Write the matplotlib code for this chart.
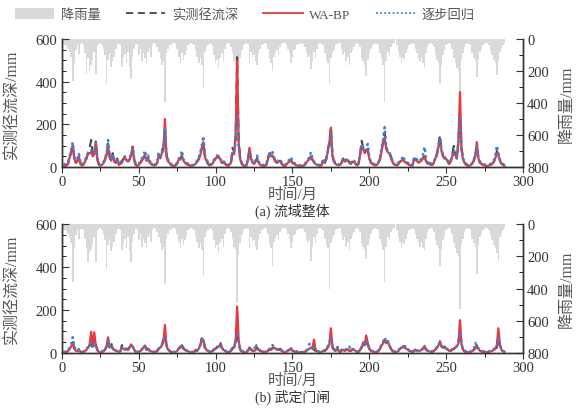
import numpy as np
import matplotlib.pyplot as plt
from matplotlib.patches import Patch
from matplotlib.lines import Line2D

plt.rcParams['font.family'] = ['Liberation Serif', 'Noto Sans CJK SC']

# monthly series, 288 months, one row = one year

rain_a = [
    30, 35, 45, 60, 80, 110, 262, 150, 70, 40, 95, 30,
    28, 35, 90, 219, 120, 200, 160, 130, 80, 219, 45, 30,
    25, 35, 60, 100, 280, 130, 90, 175, 140, 110, 60, 30,
    30, 40, 175, 120, 95, 150, 80, 175, 250, 110, 60, 30,
    35, 100, 60, 140, 90, 120, 150, 80, 60, 110, 40, 25,
    30, 50, 80, 120, 160, 140, 394, 90, 60, 40, 35, 25,
    25, 30, 60, 110, 150, 90, 130, 100, 70, 40, 30, 25,
    30, 40, 70, 110, 150, 120, 160, 306, 80, 50, 35, 25,
    30, 45, 100, 150, 130, 180, 120, 90, 140, 60, 30, 25,
    30, 50, 90, 140, 160, 480, 190, 120, 70, 40, 30, 25,
    30, 150, 80, 110, 100, 140, 160, 90, 60, 40, 30, 25,
    30, 60, 120, 150, 200, 110, 90, 70, 100, 50, 30, 25,
    25, 40, 60, 90, 150, 110, 70, 60, 40, 30, 30, 25,
    30, 50, 90, 110, 100, 188, 140, 80, 120, 60, 30, 25,
    30, 40, 90, 130, 150, 281, 120, 90, 70, 40, 30, 25,
    25, 60, 100, 80, 140, 110, 160, 90, 70, 50, 30, 25,
    30, 50, 120, 140, 160, 231, 130, 90, 60, 40, 30, 25,
    30, 40, 90, 120, 160, 394, 140, 80, 100, 50, 30, 25,
    0, 35, 80, 110, 150, 120, 130, 90, 60, 40, 30, 25,
    30, 60, 90, 120, 140, 110, 150, 181, 90, 50, 30, 25,
    30, 50, 100, 130, 150, 281, 160, 100, 70, 40, 30, 25,
    30, 60, 120, 150, 180, 200, 500, 130, 90, 50, 30, 25,
    30, 40, 90, 120, 140, 238, 130, 80, 60, 40, 30, 25,
    25, 40, 70, 100, 130, 150, 225, 140, 80, 60, 35, 25,
]

obs_a = [
    3, 5, 8, 15, 40, 75, 100, 45, 20, 30, 55, 15,
    8, 10, 20, 40, 70, 90, 127, 60, 50, 115, 40, 12,
    6, 10, 15, 35, 60, 110, 50, 30, 65, 25, 20, 40,
    10, 15, 25, 40, 45, 30, 25, 35, 60, 95, 35, 10,
    5, 10, 20, 35, 45, 60, 30, 45, 25, 15, 10, 8,
    10, 20, 60, 45, 80, 90, 170, 60, 30, 20, 10, 5,
    5, 10, 15, 40, 35, 50, 30, 20, 15, 10, 8, 5,
    5, 10, 15, 25, 40, 60, 90, 120, 50, 35, 15, 8,
    10, 15, 30, 40, 45, 50, 35, 20, 25, 15, 10, 5,
    10, 20, 90, 70, 150, 515, 120, 40, 15, 8, 5, 5,
    30, 80, 40, 20, 15, 30, 40, 20, 10, 8, 5, 5,
    10, 40, 65, 50, 60, 40, 25, 20, 30, 35, 15, 8,
    5, 10, 20, 30, 35, 20, 15, 10, 8, 5, 5, 5,
    5, 10, 20, 30, 40, 50, 35, 20, 15, 10, 8, 5,
    10, 35, 20, 40, 80, 120, 188, 60, 25, 15, 10, 8,
    10, 20, 40, 25, 30, 35, 20, 15, 25, 30, 15, 8,
    15, 60, 123, 90, 70, 80, 85, 40, 20, 15, 10, 8,
    10, 20, 40, 80, 120, 160, 90, 70, 75, 50, 30, 15,
    10, 8, 15, 25, 30, 40, 25, 20, 15, 10, 8, 5,
    35, 40, 30, 20, 25, 30, 45, 50, 25, 15, 20, 10,
    10, 20, 40, 60, 100, 150, 80, 50, 40, 45, 25, 15,
    30, 60, 99, 60, 40, 120, 240, 90, 40, 20, 10, 8,
    5, 8, 15, 30, 50, 90, 40, 20, 15, 10, 8, 5,
    5, 8, 10, 15, 25, 40, 75, 60, 30, 15, 10, 5,
]

wabp_a = [
    5, 6, 10, 18, 45, 70, 105, 40, 20, 25, 50, 15,
    8, 12, 25, 45, 60, 65, 70, 50, 60, 120, 35, 12,
    6, 10, 18, 35, 55, 100, 45, 30, 55, 25, 20, 35,
    10, 15, 20, 35, 45, 30, 25, 35, 55, 95, 30, 10,
    5, 10, 18, 30, 40, 55, 30, 40, 20, 15, 10, 8,
    10, 20, 55, 40, 65, 75, 225, 50, 25, 20, 10, 5,
    5, 10, 15, 35, 40, 55, 30, 20, 15, 10, 8, 5,
    5, 10, 15, 25, 35, 55, 85, 115, 45, 30, 15, 8,
    10, 15, 30, 40, 50, 45, 35, 20, 25, 15, 10, 5,
    10, 20, 65, 60, 140, 500, 110, 35, 15, 8, 5, 5,
    35, 90, 40, 20, 15, 25, 35, 20, 10, 8, 5, 5,
    10, 35, 60, 50, 55, 40, 25, 20, 25, 30, 15, 8,
    5, 10, 20, 25, 30, 20, 15, 10, 8, 5, 5, 5,
    5, 10, 20, 30, 35, 45, 35, 20, 15, 10, 8, 5,
    10, 30, 20, 35, 75, 110, 185, 55, 25, 15, 10, 8,
    10, 20, 35, 25, 30, 30, 20, 15, 25, 25, 15, 8,
    15, 55, 94, 85, 65, 75, 80, 40, 20, 15, 10, 8,
    10, 20, 35, 75, 110, 140, 85, 70, 65, 45, 25, 12,
    10, 8, 15, 25, 30, 35, 25, 20, 15, 10, 8, 5,
    30, 35, 30, 20, 25, 30, 40, 45, 25, 15, 20, 10,
    10, 20, 40, 55, 95, 130, 75, 50, 40, 40, 25, 15,
    25, 50, 70, 55, 40, 110, 351, 80, 35, 20, 10, 8,
    5, 8, 15, 30, 55, 117, 40, 20, 15, 10, 8, 5,
    5, 8, 10, 15, 25, 40, 65, 55, 30, 15, 10, 5,
]

step_a = [
    10, 15, 20, 25, 50, 80, 116, 50, 30, 35, 61, 20,
    12, 18, 30, 50, 65, 80, 80, 60, 70, 118, 45, 15,
    10, 15, 25, 40, 60, 127, 55, 35, 60, 30, 25, 40,
    15, 20, 30, 45, 50, 40, 30, 40, 60, 90, 40, 15,
    10, 15, 25, 40, 50, 77, 35, 55, 30, 20, 15, 10,
    15, 25, 70, 50, 70, 90, 186, 60, 35, 25, 15, 10,
    10, 15, 20, 40, 45, 77, 35, 25, 20, 15, 10, 8,
    8, 12, 20, 30, 40, 70, 100, 145, 55, 40, 20, 10,
    15, 20, 35, 45, 55, 50, 40, 25, 30, 20, 15, 10,
    15, 25, 70, 65, 120, 250, 100, 40, 20, 12, 10, 8,
    30, 70, 45, 25, 20, 30, 53, 25, 15, 12, 10, 8,
    15, 40, 70, 55, 70, 45, 30, 25, 35, 35, 20, 10,
    10, 15, 25, 35, 47, 25, 20, 15, 12, 10, 8, 8,
    10, 15, 25, 35, 45, 70, 40, 25, 20, 15, 10, 8,
    15, 40, 25, 40, 70, 100, 155, 50, 30, 20, 15, 10,
    15, 25, 38, 30, 35, 35, 25, 20, 30, 30, 20, 10,
    20, 60, 108, 95, 75, 90, 108, 45, 25, 20, 15, 10,
    15, 25, 45, 90, 130, 187, 95, 75, 70, 50, 30, 15,
    12, 10, 20, 30, 35, 53, 30, 25, 20, 15, 10, 8,
    40, 47, 35, 25, 30, 40, 60, 94, 30, 20, 25, 15,
    15, 25, 45, 60, 100, 130, 80, 55, 45, 45, 30, 20,
    30, 55, 80, 60, 45, 130, 240, 85, 40, 25, 15, 10,
    10, 12, 20, 35, 55, 98, 45, 25, 20, 15, 12, 10,
    10, 12, 15, 20, 30, 50, 100, 65, 35, 20, 15, 10,
]

rain_b = [
    30, 35, 45, 60, 80, 120, 360, 150, 70, 40, 90, 30,
    28, 35, 90, 150, 235, 180, 160, 130, 80, 235, 45, 30,
    25, 35, 60, 100, 280, 130, 90, 170, 140, 110, 60, 30,
    30, 40, 160, 120, 95, 150, 80, 170, 235, 110, 60, 30,
    35, 100, 60, 140, 90, 120, 150, 80, 60, 110, 40, 25,
    30, 50, 80, 120, 160, 140, 372, 90, 60, 40, 35, 25,
    25, 30, 60, 110, 150, 90, 130, 100, 70, 40, 30, 25,
    30, 40, 70, 110, 150, 120, 160, 320, 80, 50, 35, 25,
    30, 45, 100, 150, 130, 180, 120, 90, 140, 60, 30, 25,
    30, 50, 90, 140, 160, 490, 190, 120, 70, 40, 30, 25,
    30, 150, 80, 110, 100, 140, 160, 90, 60, 40, 30, 25,
    30, 60, 120, 150, 260, 110, 90, 70, 100, 50, 30, 25,
    25, 40, 60, 90, 150, 110, 70, 60, 40, 30, 30, 25,
    30, 50, 90, 110, 100, 230, 140, 80, 120, 60, 30, 25,
    30, 40, 90, 130, 150, 400, 120, 90, 70, 40, 30, 25,
    25, 60, 100, 80, 140, 110, 160, 90, 70, 50, 30, 25,
    30, 50, 120, 140, 160, 217, 130, 90, 60, 40, 30, 25,
    30, 40, 90, 120, 160, 360, 140, 80, 100, 50, 30, 25,
    0, 35, 80, 110, 150, 120, 130, 90, 60, 40, 30, 25,
    30, 60, 90, 120, 140, 110, 150, 160, 90, 50, 30, 25,
    30, 50, 100, 130, 150, 260, 160, 100, 70, 40, 30, 25,
    30, 60, 120, 150, 180, 200, 527, 130, 90, 50, 30, 25,
    30, 40, 90, 120, 140, 310, 130, 80, 60, 40, 30, 25,
    25, 40, 70, 100, 130, 150, 180, 230, 80, 60, 35, 25,
]

obs_b = [
    2, 3, 5, 10, 20, 35, 50, 25, 10, 8, 15, 5,
    3, 5, 10, 15, 25, 35, 45, 20, 25, 40, 15, 5,
    3, 5, 8, 15, 30, 60, 25, 47, 20, 15, 10, 8,
    5, 8, 37, 20, 15, 20, 15, 25, 33, 30, 15, 5,
    3, 5, 10, 15, 25, 33, 15, 20, 10, 8, 5, 3,
    5, 10, 20, 25, 40, 60, 90, 30, 15, 10, 5, 3,
    3, 5, 10, 20, 25, 30, 20, 15, 10, 8, 5, 3,
    3, 5, 15, 10, 20, 35, 60, 70, 25, 15, 8, 5,
    5, 10, 15, 20, 30, 35, 50, 25, 15, 10, 5, 3,
    5, 10, 25, 20, 50, 100, 40, 15, 8, 5, 3, 3,
    10, 25, 15, 10, 8, 20, 25, 15, 10, 8, 5, 3,
    5, 10, 20, 15, 25, 30, 20, 15, 15, 20, 10, 5,
    3, 5, 10, 15, 20, 10, 8, 5, 5, 3, 3, 3,
    3, 5, 10, 15, 25, 30, 20, 15, 10, 8, 5, 3,
    5, 10, 10, 15, 30, 45, 75, 25, 15, 10, 37, 10,
    5, 15, 20, 10, 15, 15, 10, 10, 15, 15, 10, 5,
    5, 15, 25, 30, 35, 45, 40, 20, 10, 8, 5, 3,
    5, 10, 20, 35, 50, 60, 50, 55, 35, 20, 10, 5,
    5, 5, 10, 20, 25, 28, 33, 20, 15, 10, 8, 5,
    8, 15, 10, 8, 10, 15, 20, 25, 15, 10, 8, 5,
    5, 10, 15, 25, 35, 50, 30, 25, 30, 25, 15, 10,
    10, 15, 20, 25, 30, 50, 100, 40, 15, 8, 5, 3,
    3, 5, 8, 15, 25, 35, 20, 10, 8, 5, 5, 3,
    3, 5, 8, 10, 15, 20, 25, 70, 30, 15, 8, 5,
]

wabp_b = [
    3, 4, 6, 10, 20, 30, 51, 20, 10, 8, 15, 5,
    3, 5, 10, 15, 25, 40, 99, 30, 96, 35, 12, 5,
    3, 5, 8, 15, 30, 73, 30, 30, 20, 15, 10, 8,
    5, 8, 25, 20, 15, 20, 15, 25, 40, 30, 15, 5,
    3, 5, 10, 15, 25, 35, 15, 20, 10, 8, 5, 3,
    5, 10, 20, 25, 35, 50, 130, 35, 15, 10, 5, 3,
    3, 5, 10, 20, 30, 35, 25, 15, 10, 8, 5, 3,
    3, 5, 10, 10, 20, 35, 68, 60, 25, 15, 8, 5,
    5, 10, 15, 20, 25, 30, 40, 25, 15, 10, 5, 3,
    5, 10, 20, 25, 60, 217, 60, 15, 8, 5, 3, 3,
    10, 25, 15, 10, 8, 15, 20, 15, 10, 8, 5, 3,
    5, 10, 15, 15, 20, 25, 20, 15, 15, 15, 10, 5,
    3, 5, 10, 15, 20, 10, 8, 5, 5, 3, 3, 3,
    3, 5, 10, 15, 20, 25, 20, 62, 15, 8, 5, 3,
    5, 10, 10, 15, 25, 40, 115, 30, 15, 10, 20, 10,
    5, 10, 15, 10, 15, 15, 10, 10, 15, 15, 10, 5,
    5, 15, 25, 50, 35, 81, 45, 20, 10, 8, 5, 3,
    5, 10, 20, 35, 45, 62, 45, 55, 35, 20, 10, 5,
    5, 5, 10, 20, 25, 28, 25, 20, 15, 10, 8, 5,
    8, 15, 10, 8, 10, 15, 20, 33, 15, 10, 8, 5,
    5, 10, 15, 25, 35, 55, 30, 25, 25, 20, 15, 10,
    10, 15, 20, 25, 30, 45, 153, 40, 15, 8, 5, 3,
    3, 5, 8, 15, 20, 30, 20, 10, 8, 5, 5, 3,
    3, 5, 8, 10, 15, 20, 35, 115, 40, 15, 8, 5,
]

step_b = [
    5, 6, 8, 12, 25, 40, 73, 30, 15, 10, 18, 8,
    5, 8, 12, 18, 30, 40, 51, 25, 40, 30, 15, 8,
    5, 8, 10, 18, 30, 60, 30, 35, 22, 18, 12, 10,
    8, 10, 25, 22, 18, 22, 18, 28, 35, 30, 18, 8,
    5, 8, 12, 18, 25, 33, 18, 22, 12, 10, 8, 5,
    8, 12, 22, 28, 40, 55, 79, 35, 18, 12, 8, 5,
    5, 8, 12, 22, 30, 35, 25, 18, 12, 10, 8, 5,
    5, 8, 12, 12, 22, 40, 70, 55, 25, 18, 10, 8,
    8, 12, 18, 22, 28, 30, 40, 25, 18, 12, 8, 5,
    8, 12, 20, 25, 50, 97, 45, 18, 10, 8, 5, 5,
    12, 22, 18, 12, 10, 42, 25, 18, 12, 10, 8, 5,
    8, 12, 18, 18, 37, 28, 22, 18, 18, 20, 12, 8,
    5, 8, 12, 18, 22, 12, 10, 8, 8, 5, 5, 5,
    5, 8, 12, 18, 42, 30, 22, 35, 18, 10, 8, 5,
    8, 12, 12, 18, 30, 45, 75, 30, 18, 12, 25, 12,
    8, 15, 18, 12, 18, 18, 30, 12, 18, 18, 12, 8,
    8, 18, 28, 40, 38, 60, 45, 22, 12, 10, 8, 5,
    8, 12, 22, 40, 50, 73, 50, 55, 35, 22, 12, 8,
    8, 8, 12, 22, 28, 30, 28, 22, 18, 12, 10, 8,
    10, 18, 12, 10, 12, 18, 22, 30, 18, 12, 10, 8,
    8, 12, 18, 28, 38, 50, 32, 28, 28, 22, 18, 12,
    12, 18, 22, 28, 32, 50, 96, 40, 18, 10, 8, 5,
    5, 8, 12, 18, 47, 30, 22, 12, 10, 8, 8, 5,
    5, 8, 10, 12, 18, 22, 30, 73, 35, 18, 10, 8,
]

months = np.arange(1, len(obs_a) + 1)

GRAY = '#d9d9d9'
RED = '#e8383d'
BLUE = '#3a7fd0'
DARK = '#454545'
TXT = '#555555'


def draw_panel(rect, rain, obs, wabp, step, caption):
    ax = fig.add_axes(rect)
    ax2 = ax.twinx()
    h = rect[3] * 410  # axes height in pixels

    ax2.bar(months, rain, width=1.0, color=GRAY, linewidth=0)
    ax2.set_ylim(800, 0)
    ax2.set_yticks([0, 200, 400, 600, 800])
    ax2.set_yticks(np.arange(0, 801, 100), minor=True)

    ax.plot(months, obs, color=DARK, ls=(0, (4, 2.5)), lw=1.5)
    ax.plot(months, wabp, color=RED, lw=1.6)
    ax.plot(months, step, color=BLUE, ls=(0, (1, 1.3)), lw=1.8)

    ax.set_zorder(ax2.get_zorder() + 1)
    ax.patch.set_visible(False)

    ax.set_xlim(0, 300)
    ax.set_ylim(0, 600)
    ax.set_xticks(np.arange(0, 301, 50))
    ax.set_xticks(np.arange(0, 301, 25), minor=True)
    ax.set_yticks([0, 200, 400, 600])
    ax.set_yticks(np.arange(0, 601, 50), minor=True)

    for a in (ax, ax2):
        a.spines['top'].set_visible(False)
        for s in a.spines.values():
            s.set_color('#333333')
            s.set_linewidth(1.0)
        a.tick_params(labelsize=10.5, colors='#333333')
    ax.tick_params(axis='y', which='both', direction='in')
    ax.tick_params(axis='y', which='major', length=5)
    ax.tick_params(axis='y', which='minor', length=3)
    ax.tick_params(axis='x', which='major', direction='out', length=4, pad=2)
    ax.tick_params(axis='x', which='minor', direction='out', length=3)
    ax2.tick_params(axis='y', which='major', direction='in', length=5, pad=3)
    ax2.tick_params(axis='y', which='minor', direction='in', length=3)

    ax.set_ylabel('实测径流深/mm', fontsize=11.5, color=TXT)
    ax.yaxis.set_label_coords(-0.09, 0.5)
    ax2.set_ylabel('降雨量/mm', fontsize=11.5, color=TXT, rotation=90)
    ax2.yaxis.set_label_coords(1.077, 0.5)

    ax.text(0.5, -27 / h, '时间/月', transform=ax.transAxes, ha='center',
            va='center', fontsize=11, color=TXT)
    ax.text(0.5, -43 / h, caption, transform=ax.transAxes, ha='center',
            va='center', fontsize=10, color='#333333')
    return ax


fig = plt.figure(figsize=(5.76, 4.10), dpi=100)

draw_panel([0.1076, 0.5902, 0.8003, 0.3122], rain_a, obs_a, wabp_a, step_a,
           '(a) 流域整体')
draw_panel([0.1076, 0.1366, 0.8003, 0.3146], rain_b, obs_b, wabp_b, step_b,
           '(b) 武定门闸')

handles = [
    Patch(facecolor=GRAY, edgecolor='none'),
    Line2D([], [], color=DARK, ls=(0, (4, 2.5)), lw=1.3),
    Line2D([], [], color=RED, lw=1.3),
    Line2D([], [], color=BLUE, ls=(0, (1, 1.3)), lw=1.3),
]
labels = ['降雨量', '实测径流深', 'WA-BP', '逐步回归']
leg = fig.legend(handles, labels, loc='center', bbox_to_anchor=(0.425, 0.962),
                 ncol=4, frameon=False, fontsize=9.5, handlelength=3.0,
                 handletextpad=0.5, columnspacing=1.9, handleheight=0.9)
for t in leg.get_texts():
    t.set_color(TXT)

fig.savefig('out.png', dpi=100)
